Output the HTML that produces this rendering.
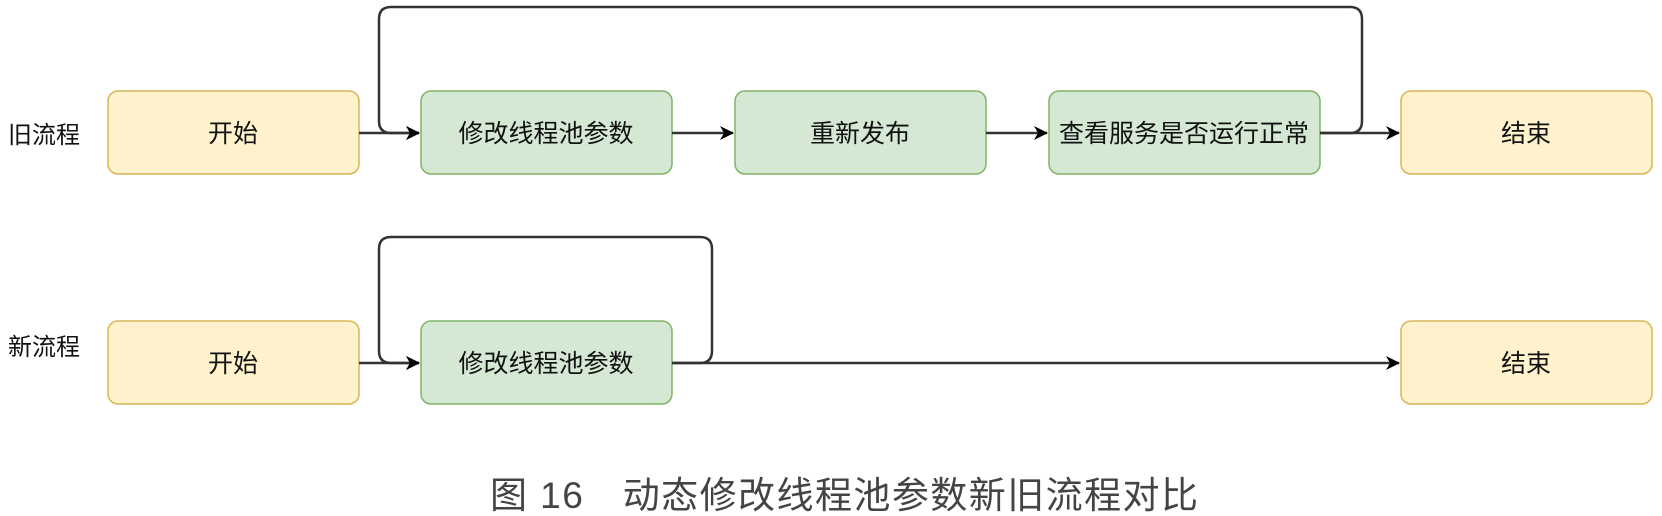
<!DOCTYPE html>
<html><head><meta charset="utf-8"><style>
html,body{margin:0;padding:0;background:#fff;}
svg{display:block;}
text{font-family:"Liberation Sans","Noto Sans CJK SC",sans-serif;}
</style></head><body>
<svg width="1662" height="516" viewBox="0 0 1662 516" xmlns="http://www.w3.org/2000/svg">
<defs>
<marker id="a" markerWidth="14" markerHeight="14" refX="13" refY="7" orient="auto" markerUnits="userSpaceOnUse">
<path d="M0,0 L14,7 L0,14 L4,7 z" fill="#000"/></marker>
</defs>
<g font-size="24" fill="#111">
<text x="8" y="143">旧流程</text>
<text x="8" y="355">新流程</text>
</g>
<g stroke-width="1.5">
<rect x="108" y="91" width="251" height="83" rx="10" fill="#fff2cc" stroke="#d6b656"/>
<rect x="421" y="91" width="251" height="83" rx="10" fill="#d5e8d4" stroke="#82b366"/>
<rect x="735" y="91" width="251" height="83" rx="10" fill="#d5e8d4" stroke="#82b366"/>
<rect x="1049" y="91" width="271" height="83" rx="10" fill="#d5e8d4" stroke="#82b366"/>
<rect x="1401" y="91" width="251" height="83" rx="10" fill="#fff2cc" stroke="#d6b656"/>
<rect x="108" y="321" width="251" height="83" rx="10" fill="#fff2cc" stroke="#d6b656"/>
<rect x="421" y="321" width="251" height="83" rx="10" fill="#d5e8d4" stroke="#82b366"/>
<rect x="1401" y="321" width="251" height="83" rx="10" fill="#fff2cc" stroke="#d6b656"/>
</g>
<g font-size="25" fill="#111" text-anchor="middle">
<text x="233" y="142">开始</text>
<text x="546" y="142">修改线程池参数</text>
<text x="860" y="142">重新发布</text>
<text x="1184" y="142">查看服务是否运行正常</text>
<text x="1526" y="142">结束</text>
<text x="233" y="372">开始</text>
<text x="546" y="372">修改线程池参数</text>
<text x="1526" y="372">结束</text>
</g>
<g stroke="#333" stroke-width="2.5" fill="none">
<path d="M359,133 H419" marker-end="url(#a)"/>
<path d="M672,133 H733" marker-end="url(#a)"/>
<path d="M986,133 H1047" marker-end="url(#a)"/>
<path d="M1320,133 H1399" marker-end="url(#a)"/>
<path d="M1320,133 H1350 Q1362,133 1362,121 V19 Q1362,7 1350,7 H391 Q379,7 379,19 V121 Q379,133 391,133 H419" marker-end="url(#a)"/>
<path d="M359,363 H419" marker-end="url(#a)"/>
<path d="M672,363 H1399" marker-end="url(#a)"/>
<path d="M672,363 H700 Q712,363 712,351 V249 Q712,237 700,237 H391 Q379,237 379,249 V351 Q379,363 391,363 H419" marker-end="url(#a)"/>
</g>
<text x="490" y="508" font-size="37" fill="#444" textLength="708" lengthAdjust="spacing">图 16　动态修改线程池参数新旧流程对比</text>
</svg>
</body></html>
